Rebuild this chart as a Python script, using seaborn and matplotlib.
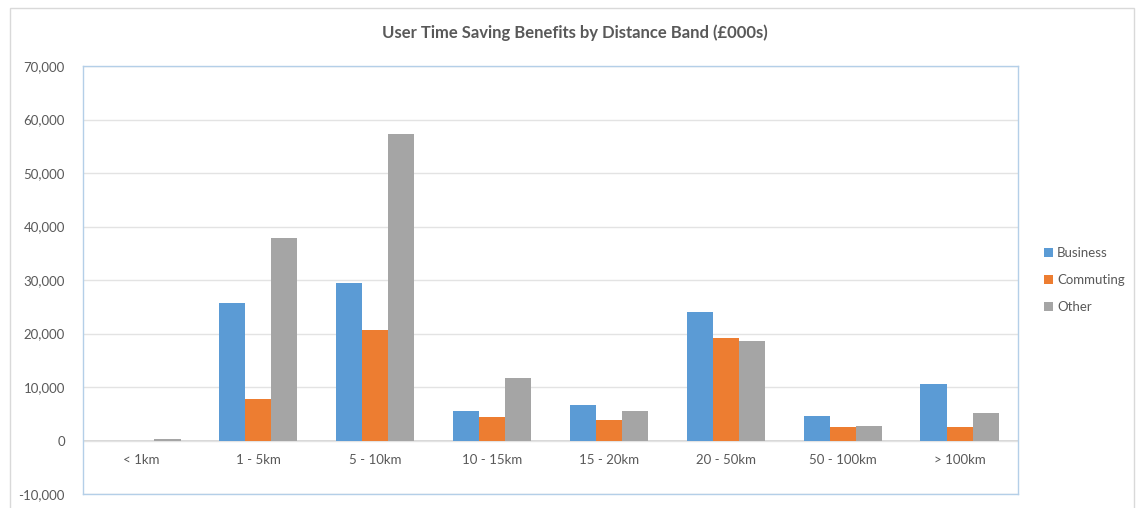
import matplotlib
matplotlib.use("Agg")
import matplotlib.pyplot as plt
import seaborn as sns
import pandas as pd
from matplotlib.ticker import FuncFormatter, MultipleLocator
from matplotlib.patches import Rectangle

# Distance bands and benefits (£000s) by journey purpose
bands = ["< 1km", "1 - 5km", "5 - 10km", "10 - 15km", "15 - 20km",
         "20 - 50km", "50 - 100km", "> 100km"]
business = [0, 25750, 29500, 5600, 6700, 24100, 4500, 10650]
commuting = [0, 7850, 20700, 4300, 3900, 19200, 2450, 2600]
other = [200, 37900, 57300, 11750, 5600, 18550, 2800, 5050]
purposes = ["Business", "Commuting", "Other"]
colors = ["#5B9BD5", "#ED7D31", "#A5A5A5"]

df = pd.DataFrame({"band": bands * 3,
                   "purpose": [p for p in purposes for _ in bands],
                   "value": business + commuting + other})

sns.set_theme(style="white")
plt.rcParams["font.family"] = ["Lato", "DejaVu Sans"]

fig = plt.figure(figsize=(11.39, 5.08), dpi=100)
ax = fig.add_axes([83 / 1139, 14 / 508, 935 / 1139, 428 / 508])

sns.barplot(data=df, x="band", y="value", hue="purpose", order=bands,
            hue_order=purposes, palette=colors, width=0.67, saturation=1,
            edgecolor="none", ax=ax, legend=True)

ax.set_ylim(-10000, 70000)
ax.yaxis.set_major_locator(MultipleLocator(10000))
ax.yaxis.set_major_formatter(FuncFormatter(lambda v, p: f"{int(v):,}"))
ax.grid(axis="y", color="#E3E3E3", linewidth=1)
ax.set_axisbelow(True)
ax.axhline(0, color="#D0D0D0", linewidth=1.2, zorder=0.5)
ax.set_xlabel("")
ax.set_ylabel("")
for s in ax.spines.values():
    s.set_color("#B4CFE8")
    s.set_linewidth(1)
ax.tick_params(axis="y", length=0, labelsize=9.5, labelcolor="#595959", pad=13)
ax.tick_params(axis="x", length=0, labelsize=9.5, labelcolor="#595959", pad=-29)

ax.set_title("User Time Saving Benefits by Distance Band (£000s)",
             fontsize=12, fontweight="bold", color="#595959",
             x=492 / 935, y=1.0, pad=20)

leg = ax.legend(loc="center left", bbox_to_anchor=(1.015, 0.5),
                frameon=False, fontsize=9.5, handlelength=0.7, handleheight=0.7,
                handletextpad=0.3, labelspacing=1.15)
for t in leg.get_texts():
    t.set_color("#595959")

fig.patches.append(Rectangle((10 / 1139, -0.01), 1124 / 1139, 1 - 8 / 508 + 0.01,
                             transform=fig.transFigure, fill=False,
                             edgecolor="#D9D9D9", linewidth=1))

fig.savefig("out.png", dpi=100, facecolor="white")
